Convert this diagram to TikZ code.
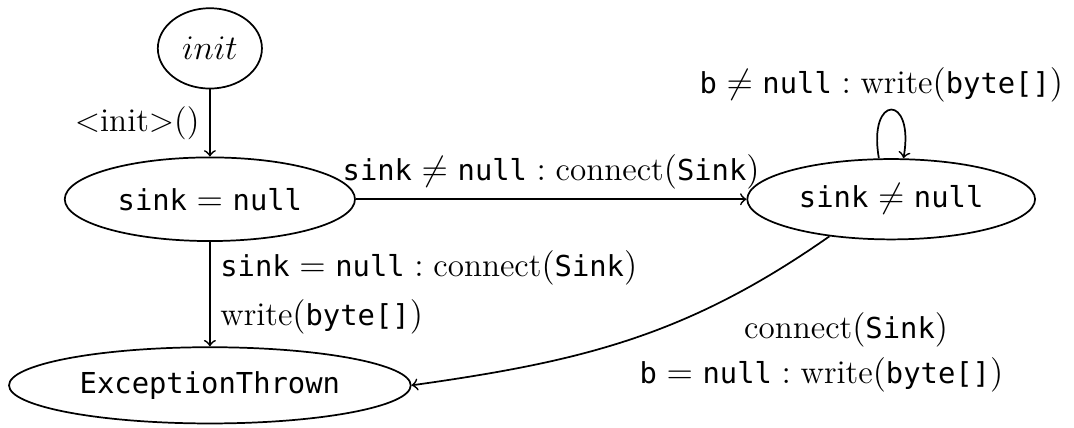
\documentclass[tikz,border=0pt]{standalone}
\usepackage{fontspec}
\setmonofont[Scale=0.87]{DejaVu Sans Mono}
\usetikzlibrary{shapes.geometric}

\begin{document}
\begin{tikzpicture}[semithick, font=\fontsize{11.5}{14}\selectfont,
    state/.style={ellipse, draw=black, inner sep=0pt}]
  \useasboundingbox (0,0) rectangle (13.1,5.21);

  \node[state, minimum width=1.27cm, minimum height=0.98cm] (init) at (2.56,4.62) {$init$};
  \node[state, minimum width=3.54cm, minimum height=1.02cm] (sinknull) at (2.56,2.78) {$\texttt{sink} = \texttt{null}$};
  \node[state, minimum width=3.51cm, minimum height=0.98cm] (sinknotnull) at (10.87,2.78) {$\texttt{sink} \neq \texttt{null}$};
  \node[state, minimum width=4.9cm, minimum height=0.93cm] (thrown) at (2.56,0.51) {\texttt{ExceptionThrown}};

  \draw[->] (init) -- node[left] (lblinit) {<init>()} (sinknull);
  \draw[->] (sinknull) -- node[above] (lblconnect) {$\texttt{sink} \neq \texttt{null} : \mbox{connect}(\texttt{Sink})$} (sinknotnull);
  \draw[->] (sinknull) -- node[pos=0.25, right] (lblnullconnect) {$\texttt{sink} = \texttt{null} : \mbox{connect}(\texttt{Sink})$}
                          node[pos=0.72, right] (lblnullwrite) {write$(\texttt{byte[]})$} (thrown);
  \draw[->] ([xshift=-0.15cm]sinknotnull.north) .. controls +(100:0.8) and +(80:0.8) .. ([xshift=0.15cm]sinknotnull.north)
        node[pos=0.5, above, xshift=-0.12cm, yshift=-1pt] (lblwrite) {$\texttt{b} \neq \texttt{null} : \mbox{write}(\texttt{byte[]})$};
  \draw[->] (sinknotnull.211) to[out=215, in=8] (thrown.east);
  \node[anchor=base] (lblreconnect) at (10.32,1.085) {connect$(\texttt{Sink})$};
  \node[anchor=base] (lblnullb) at (10.02,0.537) {$\texttt{b} = \texttt{null} : \mbox{write}(\texttt{byte[]})$};
\end{tikzpicture}
\end{document}
